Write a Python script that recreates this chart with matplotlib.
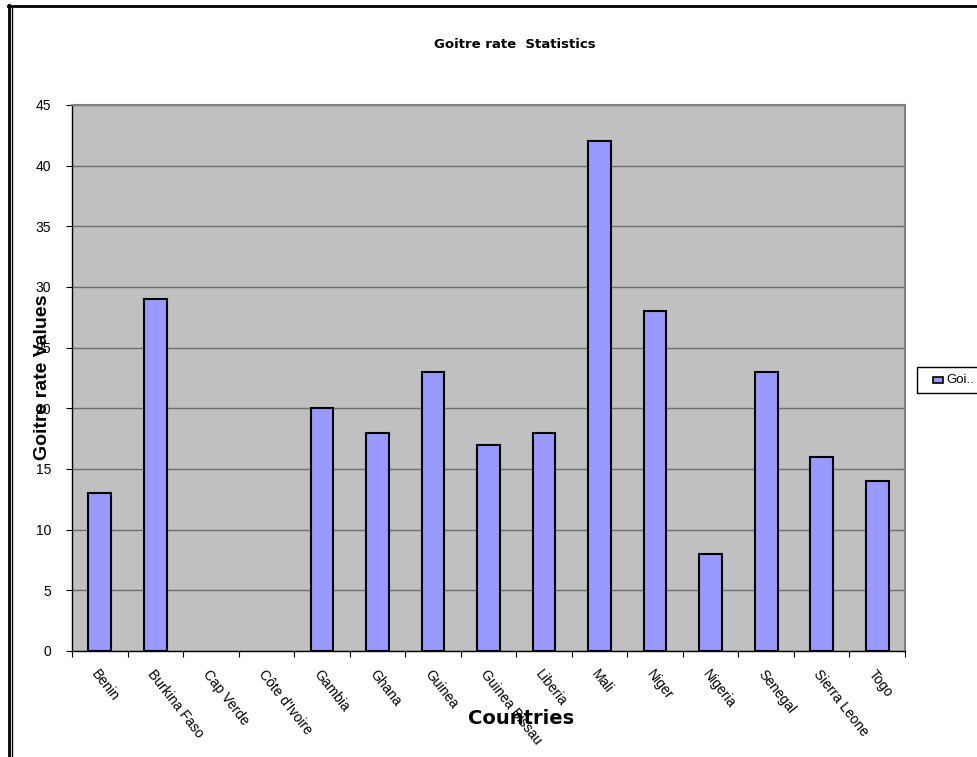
import matplotlib
matplotlib.use("Agg")
import matplotlib.pyplot as plt
import numpy as np
from matplotlib.lines import Line2D
from matplotlib.patches import Rectangle

# --------------------------
# data
# --------------------------
countries = ["Benin", "Burkina Faso", "Cap Verde", "Côte d'Ivoire", "Gambia",
             "Ghana", "Guinea", "Guinea Bissau", "Liberia", "Mali", "Niger",
             "Nigeria", "Senegal", "Sierra Leone", "Togo"]
goitre = [13, 29, 0, 0, 20, 18, 23, 17, 18, 42, 28, 8, 23, 16, 14]
y_ticks = [0, 5, 10, 15, 20, 25, 30, 35, 40, 45]

plt.rcParams['font.family'] = ['Liberation Sans', 'DejaVu Sans']

W, H = 977, 757
fig = plt.figure(figsize=(W / 100, H / 100), dpi=100)
ax = fig.add_axes([72 / W, 1 - 651 / H, (905 - 72) / W, (651 - 105) / H])

x = np.arange(len(countries))
# empty bars (value 0) are not drawn at all in the original
edge_w = [1.5 if v > 0 else 0 for v in goitre]
ax.bar(x, goitre, width=0.41, color="#9999FF", edgecolor="black",
       linewidth=edge_w, zorder=3)

ax.set_facecolor("#C0C0C0")
ax.set_xlim(-0.5, len(countries) - 0.5)
ax.set_ylim(0, 45)
ax.set_yticks(y_ticks)
ax.yaxis.grid(True, color="#6E6E6E", linewidth=1, zorder=1)

for s in ["top", "right"]:
    ax.spines[s].set_color("#808080")
    ax.spines[s].set_linewidth(1.5)
for s in ["left", "bottom"]:
    ax.spines[s].set_color("black")
    ax.spines[s].set_linewidth(1)

# category labels between tick marks (Excel style)
ax.set_xticks(np.arange(len(countries) + 1) - 0.5, minor=False)
ax.set_xticklabels([])
ax.set_xticks(x, minor=True)
ax.set_xticklabels(countries, minor=True, rotation=-52, ha="left",
                   va="top", rotation_mode="anchor", fontsize=10)
ax.tick_params(axis="x", which="minor", length=0, pad=12)
ax.tick_params(axis="x", which="major", length=4, direction="out")
ax.tick_params(axis="y", length=4, direction="out", labelsize=10, pad=11)

fig.text(515 / W, 1 - 45 / H, "Goitre rate  Statistics", ha="center",
         va="center", fontsize=9.5, fontweight="bold", family="DejaVu Sans")
fig.text(43 / W, 1 - 377 / H, "Goitre rate Values", rotation=90, ha="center",
         va="center", fontsize=14, fontweight="bold")
fig.text(521 / W, 1 - 719 / H, "Countries", ha="center", va="center",
         fontsize=14, fontweight="bold", family="DejaVu Sans")

# legend box (runs off the right edge)
fig.patches.append(Rectangle((917 / W, 1 - 393 / H), 70 / W, 26 / H,
                             transform=fig.transFigure, facecolor="white",
                             edgecolor="black", linewidth=1))
fig.patches.append(Rectangle((933 / W, 1 - 383 / H), 10 / W, 6 / H,
                             transform=fig.transFigure, facecolor="#9999FF",
                             edgecolor="black", linewidth=1.2))
fig.text(946 / W, 1 - 380 / H, "Goi..", ha="left", va="center", fontsize=9.5)

# outer frame
fig.lines.append(Line2D([8.5 / W, 8.5 / W], [0, 1 - 5 / H], color="black",
                        linewidth=2, transform=fig.transFigure))
fig.lines.append(Line2D([11.5 / W, 11.5 / W], [0, 1 - 8 / H], color="black",
                        linewidth=1, transform=fig.transFigure))
fig.lines.append(Line2D([8 / W, 1], [1 - 5.5 / H, 1 - 5.5 / H], color="black",
                        linewidth=2, transform=fig.transFigure))

fig.savefig("out.png", dpi=100)
